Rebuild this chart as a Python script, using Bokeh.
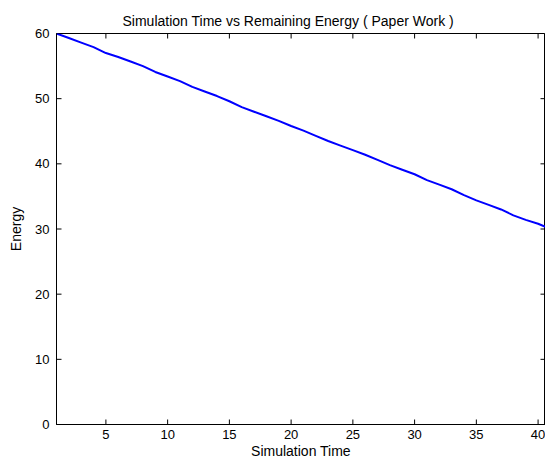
from bokeh.plotting import figure
from bokeh.models import FixedTicker, Range1d
from bokeh.embed import file_html
from bokeh.resources import INLINE

sim_time = list(range(1, 42))
energy = [60.0, 59.3, 58.6, 57.9, 57.0, 56.4, 55.7, 55.0, 54.1, 53.4,
          52.7, 51.8, 51.1, 50.4, 49.6, 48.7, 48.0, 47.3, 46.6, 45.8,
          45.1, 44.3, 43.5, 42.8, 42.1, 41.4, 40.6, 39.8, 39.1, 38.4,
          37.5, 36.8, 36.1, 35.2, 34.4, 33.7, 33.0, 32.1, 31.4, 30.8, 30.0]
x_ticks = [5, 10, 15, 20, 25, 30, 35, 40]
y_ticks = [0, 10, 20, 30, 40, 50, 60]
x_lim = (1, 40.6)
y_lim = (0, 60)
title_text = "Simulation Time vs Remaining Energy ( Paper Work )"

FONT = "Liberation Sans"
W, H = 545, 464
B_LEFT, B_RIGHT, B_TOP, B_BOTTOM = 56, 0, 33, 40
TICK_PX = 5

p = figure(width=W, height=H, output_backend="svg", toolbar_location=None,
           x_range=Range1d(*x_lim), y_range=Range1d(*y_lim),
           min_border_left=B_LEFT, min_border_right=B_RIGHT,
           min_border_top=B_TOP, min_border_bottom=B_BOTTOM,
           title=title_text)
p.title.text_font = FONT
p.title.text_font_style = "normal"
p.title.text_font_size = "14px"
p.title.text_color = "black"
p.title.align = "left"
p.title.offset = 66

p.grid.visible = False
p.outline_line_color = "black"
p.outline_line_width = 1
p.background_fill_color = "white"
p.border_fill_color = "white"

p.xaxis.axis_label = "Simulation Time"
p.yaxis.axis_label = "Energy"
for ax, ticks in ((p.xaxis[0], x_ticks), (p.yaxis[0], y_ticks)):
    ax.ticker = FixedTicker(ticks=ticks)
    ax.major_tick_in = 0
    ax.major_tick_out = 0
    ax.minor_tick_line_color = None
    ax.axis_line_color = "black"
    ax.major_tick_line_color = None
    ax.major_label_text_font = FONT
    ax.major_label_text_font_size = "13px"
    ax.major_label_text_color = "black"
    ax.axis_label_text_font = FONT
    ax.axis_label_text_font_size = "14px"
    ax.axis_label_text_font_style = "normal"
    ax.axis_label_text_color = "black"
p.xaxis.major_label_standoff = 5
p.xaxis.axis_label_standoff = 1
p.yaxis.major_label_standoff = 7
p.yaxis.axis_label_standoff = 8

# inward tick marks on all four sides (MATLAB box style)
frame_w = W - B_LEFT - B_RIGHT
frame_h = H - B_TOP - B_BOTTOM
dy = TICK_PX * (y_lim[1] - y_lim[0]) / frame_h
dx = TICK_PX * (x_lim[1] - x_lim[0]) / frame_w
p.segment(x0=x_ticks, y0=[y_lim[0]] * len(x_ticks), x1=x_ticks, y1=[y_lim[0] + dy] * len(x_ticks),
          line_color="black", line_width=1)
p.segment(x0=x_ticks, y0=[y_lim[1]] * len(x_ticks), x1=x_ticks, y1=[y_lim[1] - dy] * len(x_ticks),
          line_color="black", line_width=1)
p.segment(x0=[x_lim[0]] * len(y_ticks), y0=y_ticks, x1=[x_lim[0] + dx] * len(y_ticks), y1=y_ticks,
          line_color="black", line_width=1)
p.segment(x0=[x_lim[1]] * len(y_ticks), y0=y_ticks, x1=[x_lim[1] - dx] * len(y_ticks), y1=y_ticks,
          line_color="black", line_width=1)

p.line(sim_time, energy, line_color="#0000FF", line_width=2)

open("out.html", "w").write(file_html(p, INLINE))
